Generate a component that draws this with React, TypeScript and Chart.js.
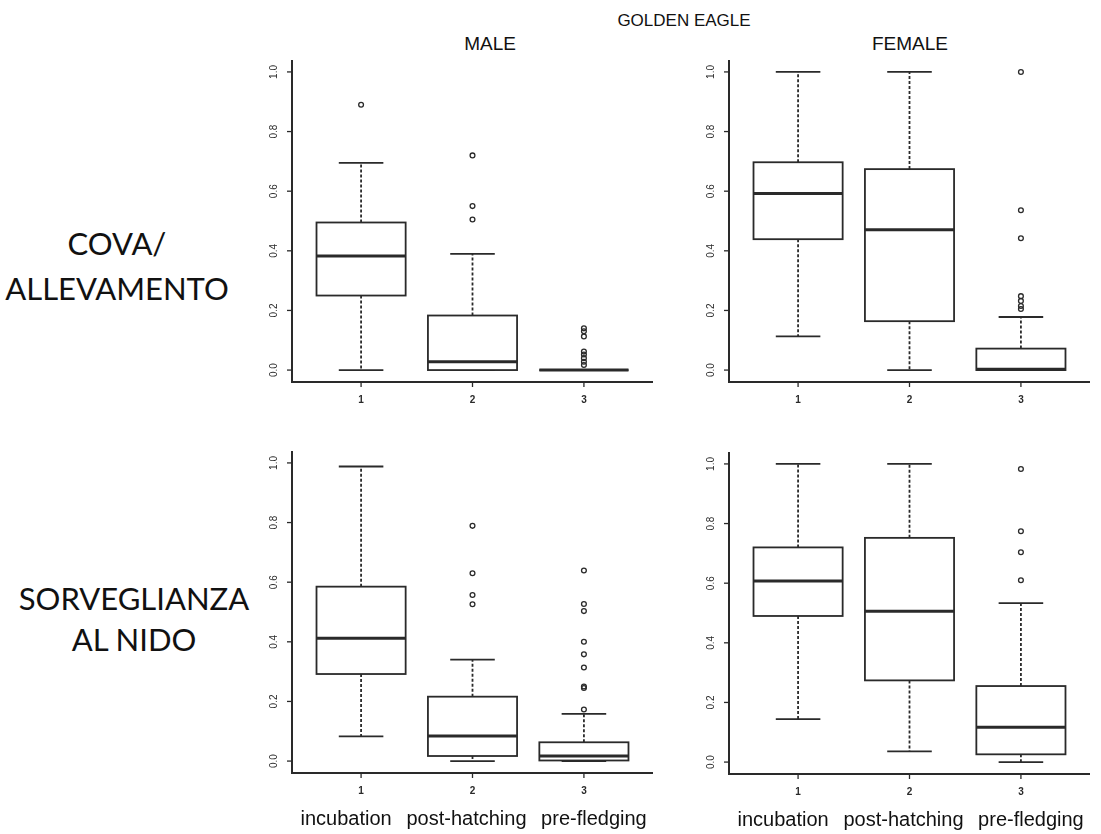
import React, { useEffect, useRef } from "react";
import { Chart, registerables } from "chart.js";

Chart.register(...registerables);

const CATEGORIES = ["incubation", "post-hatching", "pre-fledging"];
const X_TICKS = ["1", "2", "3"];
const Y_TICKS = [0, 0.2, 0.4, 0.6, 0.8, 1.0];

// MALE – COVA/ALLEVAMENTO
const MALE_COVA_LOW = [0, 0, 0];
const MALE_COVA_Q1 = [0.25, 0, 0];
const MALE_COVA_MED = [0.383, 0.028, 0];
const MALE_COVA_Q3 = [0.495, 0.183, 0];
const MALE_COVA_HIGH = [0.695, 0.39, 0];
const MALE_COVA_OUT = [
  [0.89],
  [0.72, 0.55, 0.505],
  [0.14, 0.13, 0.113, 0.062, 0.052, 0.04, 0.028, 0.017],
];

// FEMALE – COVA/ALLEVAMENTO
const FEMALE_COVA_LOW = [0.113, 0, 0];
const FEMALE_COVA_Q1 = [0.439, 0.164, 0];
const FEMALE_COVA_MED = [0.592, 0.471, 0.003];
const FEMALE_COVA_Q3 = [0.697, 0.674, 0.072];
const FEMALE_COVA_HIGH = [1.0, 1.0, 0.178];
const FEMALE_COVA_OUT = [[], [], [1.0, 0.536, 0.442, 0.248, 0.232, 0.215, 0.205]];

// MALE – SORVEGLIANZA AL NIDO
const MALE_SORV_LOW = [0.083, 0, 0];
const MALE_SORV_Q1 = [0.292, 0.017, 0.002];
const MALE_SORV_MED = [0.412, 0.084, 0.017];
const MALE_SORV_Q3 = [0.585, 0.216, 0.063];
const MALE_SORV_HIGH = [0.988, 0.34, 0.158];
const MALE_SORV_OUT = [
  [],
  [0.789, 0.63, 0.557, 0.526],
  [0.639, 0.527, 0.503, 0.4, 0.358, 0.314, 0.25, 0.245, 0.173],
];

// FEMALE – SORVEGLIANZA AL NIDO
const FEMALE_SORV_LOW = [0.144, 0.036, 0];
const FEMALE_SORV_Q1 = [0.49, 0.274, 0.026];
const FEMALE_SORV_MED = [0.607, 0.506, 0.117];
const FEMALE_SORV_Q3 = [0.72, 0.752, 0.255];
const FEMALE_SORV_HIGH = [1.0, 1.0, 0.533];
const FEMALE_SORV_OUT = [[], [], [0.983, 0.774, 0.704, 0.61]];

const FONT = '"Liberation Sans", Arial, Helvetica, sans-serif';
const INK = "#2a2a2a";

type Stats = {
  low: number[];
  q1: number[];
  med: number[];
  q3: number[];
  high: number[];
  out: number[][];
};

type PanelProps = {
  stats: Stats;
  canvasRect: { left: number; top: number; width: number; height: number };
  area: { l: number; t: number; r: number; b: number };
  showCategories: boolean;
};

const LABEL_SHIFT = [-15, -6, 10];

function Panel({ stats, canvasRect, area, showCategories }: PanelProps) {
  const ref = useRef<HTMLCanvasElement | null>(null);
  useEffect(() => {
    if (!ref.current) return;
    const boxPlugin = {
      id: "boxes",
      beforeDatasetsDraw(chart: any) {
        const { ctx } = chart;
        const xs = chart.scales.x;
        const ys = chart.scales.y;
        const unit = xs.getPixelForValue(2) - xs.getPixelForValue(1);
        const half = unit * 0.4;
        const cap = unit * 0.2;
        ctx.save();
        ctx.strokeStyle = INK;
        for (let i = 0; i < stats.med.length; i++) {
          const cx = xs.getPixelForValue(i + 1);
          const yl = ys.getPixelForValue(stats.low[i]);
          const y1 = ys.getPixelForValue(stats.q1[i]);
          const ym = ys.getPixelForValue(stats.med[i]);
          const y3 = ys.getPixelForValue(stats.q3[i]);
          const yh = ys.getPixelForValue(stats.high[i]);
          ctx.lineWidth = 1.8;
          ctx.setLineDash([3, 2]);
          ctx.beginPath();
          ctx.moveTo(cx, y3);
          ctx.lineTo(cx, yh);
          ctx.moveTo(cx, y1);
          ctx.lineTo(cx, yl);
          ctx.stroke();
          ctx.setLineDash([]);
          ctx.lineWidth = 1.8;
          ctx.beginPath();
          ctx.moveTo(cx - cap, yh);
          ctx.lineTo(cx + cap, yh);
          ctx.moveTo(cx - cap, yl);
          ctx.lineTo(cx + cap, yl);
          ctx.stroke();
          ctx.fillStyle = "#ffffff";
          ctx.fillRect(cx - half, y3, half * 2, y1 - y3);
          ctx.lineWidth = 1.8;
          ctx.strokeRect(cx - half, y3, half * 2, y1 - y3);
          ctx.lineWidth = 3;
          ctx.beginPath();
          ctx.moveTo(cx - half, ym);
          ctx.lineTo(cx + half, ym);
          ctx.stroke();
        }
        ctx.restore();
      },
      afterDraw(chart: any) {
        const { ctx, chartArea } = chart;
        const xs = chart.scales.x;
        const ys = chart.scales.y;
        const { left, right, top, bottom } = chartArea;
        ctx.save();
        ctx.strokeStyle = INK;
        ctx.lineWidth = 2;
        ctx.beginPath();
        ctx.moveTo(left, top);
        ctx.lineTo(left, bottom);
        ctx.lineTo(right, bottom);
        ctx.stroke();
        ctx.lineWidth = 1.3;
        ctx.fillStyle = INK;
        ctx.font = `10px ${FONT}`;
        ctx.textAlign = "center";
        ctx.textBaseline = "middle";
        Y_TICKS.forEach((v) => {
          const y = ys.getPixelForValue(v);
          ctx.beginPath();
          ctx.moveTo(left - 5, y);
          ctx.lineTo(left, y);
          ctx.stroke();
          ctx.save();
          ctx.translate(left - 18, y);
          ctx.rotate(-Math.PI / 2);
          ctx.fillText(v.toFixed(1), 0, 0);
          ctx.restore();
        });
        ctx.font = `bold 10px ${FONT}`;
        X_TICKS.forEach((t, i) => {
          const x = xs.getPixelForValue(i + 1);
          ctx.beginPath();
          ctx.moveTo(x, bottom);
          ctx.lineTo(x, bottom + 5);
          ctx.stroke();
          ctx.fillText(t, x, bottom + 18);
        });
        if (showCategories) {
          ctx.fillStyle = "#111";
          ctx.font = `20px ${FONT}`;
          CATEGORIES.forEach((c, i) => {
            const x = xs.getPixelForValue(i + 1) + LABEL_SHIFT[i];
            ctx.fillText(c, x, bottom + 46);
          });
        }
        ctx.restore();
      },
    };

    const datasets = stats.out.map((vals, i) => ({
      data: vals.map((v) => ({ x: i + 1, y: v })),
      pointRadius: 2.4,
      pointBorderWidth: 1.3,
      borderColor: INK,
      backgroundColor: "rgba(255,255,255,0)",
      pointHoverRadius: 2.4,
    }));

    const chart = new Chart(ref.current, {
      type: "scatter",
      data: { datasets },
      options: {
        animation: false,
        responsive: false,
        maintainAspectRatio: false,
        events: [],
        layout: {
          padding: {
            left: area.l - canvasRect.left,
            top: area.t - canvasRect.top,
            right: canvasRect.left + canvasRect.width - area.r,
            bottom: canvasRect.top + canvasRect.height - area.b,
          },
        },
        scales: {
          x: { type: "linear", min: 0.38, max: 3.62, display: false },
          y: { type: "linear", min: -0.04, max: 1.04, display: false },
        },
        plugins: { legend: { display: false }, tooltip: { enabled: false } },
      },
      plugins: [boxPlugin],
    });
    return () => chart.destroy();
  }, []);

  return (
    <canvas
      ref={ref}
      width={canvasRect.width}
      height={canvasRect.height}
      style={{
        position: "absolute",
        left: canvasRect.left,
        top: canvasRect.top,
        width: canvasRect.width,
        height: canvasRect.height,
      }}
    />
  );
}

const textStyle = (x: number, y: number, size: number, family: string): React.CSSProperties => ({
  position: "absolute",
  left: x - 200,
  width: 400,
  top: y - size * 0.6,
  height: size * 1.2,
  lineHeight: `${size * 1.2}px`,
  fontSize: size,
  fontFamily: family,
  textAlign: "center",
  color: "#111",
  whiteSpace: "nowrap",
});

export default function App() {
  const ROW_FONT = 'Lato, "Noto Sans", sans-serif';
  return (
    <div style={{ position: "absolute", left: 0, top: 0, width: 1101, height: 834, background: "#fff", overflow: "hidden" }}>
      <div style={textStyle(684, 21, 17, FONT)}>GOLDEN EAGLE</div>
      <div style={textStyle(490, 44, 19, FONT)}>MALE</div>
      <div style={textStyle(910, 44, 19, FONT)}>FEMALE</div>

      <div style={textStyle(117, 244, 31, ROW_FONT)}>COVA/</div>
      <div style={textStyle(117, 289, 31, ROW_FONT)}>ALLEVAMENTO</div>
      <div style={textStyle(134, 599, 31, ROW_FONT)}>SORVEGLIANZA</div>
      <div style={textStyle(134, 640, 31, ROW_FONT)}>AL NIDO</div>

      <Panel
        stats={{ low: MALE_COVA_LOW, q1: MALE_COVA_Q1, med: MALE_COVA_MED, q3: MALE_COVA_Q3, high: MALE_COVA_HIGH, out: MALE_COVA_OUT }}
        canvasRect={{ left: 240, top: 50, width: 430, height: 370 }}
        area={{ l: 292, t: 60, r: 653, b: 382 }}
        showCategories={false}
      />
      <Panel
        stats={{ low: FEMALE_COVA_LOW, q1: FEMALE_COVA_Q1, med: FEMALE_COVA_MED, q3: FEMALE_COVA_Q3, high: FEMALE_COVA_HIGH, out: FEMALE_COVA_OUT }}
        canvasRect={{ left: 676, top: 50, width: 425, height: 370 }}
        area={{ l: 729, t: 60, r: 1090, b: 382 }}
        showCategories={false}
      />
      <Panel
        stats={{ low: MALE_SORV_LOW, q1: MALE_SORV_Q1, med: MALE_SORV_MED, q3: MALE_SORV_Q3, high: MALE_SORV_HIGH, out: MALE_SORV_OUT }}
        canvasRect={{ left: 240, top: 430, width: 430, height: 404 }}
        area={{ l: 292, t: 451, r: 653, b: 773 }}
        showCategories={true}
      />
      <Panel
        stats={{ low: FEMALE_SORV_LOW, q1: FEMALE_SORV_Q1, med: FEMALE_SORV_MED, q3: FEMALE_SORV_Q3, high: FEMALE_SORV_HIGH, out: FEMALE_SORV_OUT }}
        canvasRect={{ left: 676, top: 430, width: 425, height: 404 }}
        area={{ l: 729, t: 452, r: 1090, b: 774 }}
        showCategories={true}
      />
    </div>
  );
}
